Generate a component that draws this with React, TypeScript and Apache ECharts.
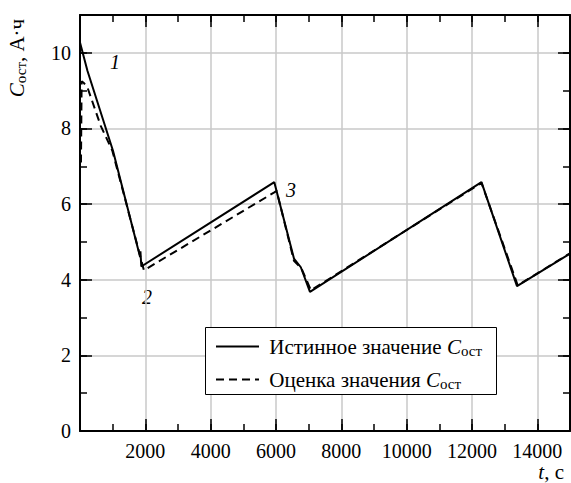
import React, { useEffect, useRef } from "react";
import * as echarts from "echarts";

const FONT = "'Liberation Serif', 'Times New Roman', 'DejaVu Serif', serif";

// True residual capacity: time (s) and value (A·h)
const trueTime = [0, 230, 1010, 1840, 1850, 1877, 5948, 6550, 6760, 7040, 12290, 13377, 15000];
const trueCap = [10.27, 9.52, 7.41, 4.6, 4.75, 4.35, 6.58, 4.56, 4.33, 3.68, 6.58, 3.83, 4.69];

// Estimated residual capacity
const estTime = [30, 50, 120, 230, 635, 990, 1957, 5948, 6020, 6550, 6780, 7070, 12290, 13400, 15000];
const estCap = [7.1, 9.25, 9.2, 9.08, 8.07, 7.41, 4.25, 6.31, 6.35, 4.5, 4.3, 3.72, 6.56, 3.85, 4.7];

const xTickMajor = 2000;
const xTickMinor = 1000;
const yTickMajor = 2;
const yTickMinor = 1;

const seriesNames = ["Истинное значение", "Оценка значения"];
const curveLabels = ["1", "2", "3"];

export default function App() {
  const ref = useRef<HTMLDivElement>(null);

  useEffect(() => {
    if (!ref.current) return;
    const chart = echarts.init(ref.current, null, { renderer: "svg" });

    const trueData = trueTime.map((t, i) => [t, trueCap[i]]);
    const estData = estTime.map((t, i) => [t, estCap[i]]);

    const black = "#000";
    const gridColor = "#c8c8c8";

    const makeX = (interval: number, position: string, major: boolean, primary: boolean) => ({
      type: "value",
      min: 0,
      max: 15000,
      interval,
      position,
      axisLine: { show: major, onZero: false, lineStyle: { color: black, width: 2 } },
      axisTick: { show: true, inside: true, length: major ? 12 : 7, lineStyle: { color: black, width: 1.5 } },
      axisLabel: {
        show: primary,
        showMinLabel: false,
        showMaxLabel: false,
        fontFamily: FONT,
        fontSize: 20,
        lineHeight: 20,
        color: black,
        margin: 10,
        formatter: (v: number) => String(v),
      },
      splitLine: { show: primary, lineStyle: { color: gridColor, width: 1.5 } },
    });

    const makeY = (interval: number, position: string, major: boolean, primary: boolean) => ({
      type: "value",
      min: 0,
      max: 11,
      interval,
      position,
      axisLine: { show: major, onZero: false, lineStyle: { color: black, width: 2 } },
      axisTick: { show: true, inside: true, length: major ? 12 : 7, lineStyle: { color: black, width: 1.5 } },
      axisLabel: {
        show: primary,
        showMaxLabel: false,
        fontFamily: FONT,
        fontSize: 20,
        color: black,
        margin: 9,
        formatter: (v: number) => String(v),
      },
      splitLine: { show: primary, lineStyle: { color: gridColor, width: 1.5 } },
    });

    const rich = {
      a: { fontFamily: FONT, fontSize: 21, color: black, verticalAlign: "middle" },
      i: { fontFamily: FONT, fontSize: 21, fontStyle: "italic", color: black, verticalAlign: "middle" },
      s: { fontFamily: FONT, fontSize: 15, color: black, verticalAlign: "bottom", padding: [8, 0, 0, 0] },
    };

    const nameRich = {
      a: { fontFamily: FONT, fontSize: 21, lineHeight: 18, color: black },
      i: { fontFamily: FONT, fontSize: 21, lineHeight: 18, fontStyle: "italic", color: black },
    };

    chart.setOption({
      animation: false,
      backgroundColor: "#fff",
      grid: { left: 80, right: 1, top: 15, bottom: 52, containLabel: false },
      xAxis: [
        makeX(xTickMajor, "bottom", true, true),
        makeX(xTickMinor, "bottom", false, false),
        makeX(xTickMajor, "top", true, false),
        makeX(xTickMinor, "top", false, false),
      ],
      yAxis: [
        makeY(yTickMajor, "left", true, true),
        makeY(yTickMinor, "left", false, false),
        makeY(yTickMajor, "right", true, false),
        makeY(yTickMinor, "right", false, false),
      ],
      legend: {
        orient: "vertical",
        left: 205,
        top: 336,
        z: 6,
        padding: [0, 0, 0, 10],
        itemGap: 11,
        itemWidth: 43,
        itemHeight: 14,
        selectedMode: false,
        data: seriesNames,
        itemStyle: { opacity: 0 },
        formatter: (name: string) => `{a| ${name} }{i|C}{s|ост}`,
        textStyle: { rich },
      },
      graphic: [
        {
          type: "rect",
          z: 3,
          shape: { x: 205.5, y: 327.5, width: 291, height: 67 },
          style: { fill: "#fff", stroke: black, lineWidth: 1 },
        },
        {
          type: "text",
          x: 17,
          y: 58,
          rotation: Math.PI / 2,
          style: {
            text: "{i|C}{s|ост}{a|, А·ч}",
            rich,
            align: "center",
            verticalAlign: "middle",
          },
        },
        {
          type: "text",
          x: 564,
          y: 472,
          style: {
            text: "{i|t}{a|, с}",
            rich: nameRich,
            align: "right",
            verticalAlign: "middle",
          },
        },
        {
          type: "text",
          x: 115,
          y: 62,
          style: { text: curveLabels[0], fontFamily: FONT, fontSize: 20, fontStyle: "italic", fill: black, align: "center", verticalAlign: "middle" },
        },
        {
          type: "text",
          x: 147,
          y: 297,
          style: { text: curveLabels[1], fontFamily: FONT, fontSize: 20, fontStyle: "italic", fill: black, align: "center", verticalAlign: "middle" },
        },
        {
          type: "text",
          x: 291,
          y: 190,
          style: { text: curveLabels[2], fontFamily: FONT, fontSize: 20, fontStyle: "italic", fill: black, align: "center", verticalAlign: "middle" },
        },
      ],
      series: [
        {
          name: seriesNames[0],
          type: "line",
          data: trueData,
          symbol: "none",
          z: 3,
          lineStyle: { color: black, width: 2 },
          itemStyle: { color: black },
        },
        {
          name: seriesNames[1],
          type: "line",
          data: estData,
          symbol: "none",
          z: 2,
          lineStyle: { color: black, width: 2, type: [8, 5] },
          itemStyle: { color: black },
        },
      ],
    });

    return () => chart.dispose();
  }, []);

  return (
    <div
      ref={ref}
      style={{ position: "absolute", left: 0, top: 0, width: 571, height: 483 }}
    />
  );
}
